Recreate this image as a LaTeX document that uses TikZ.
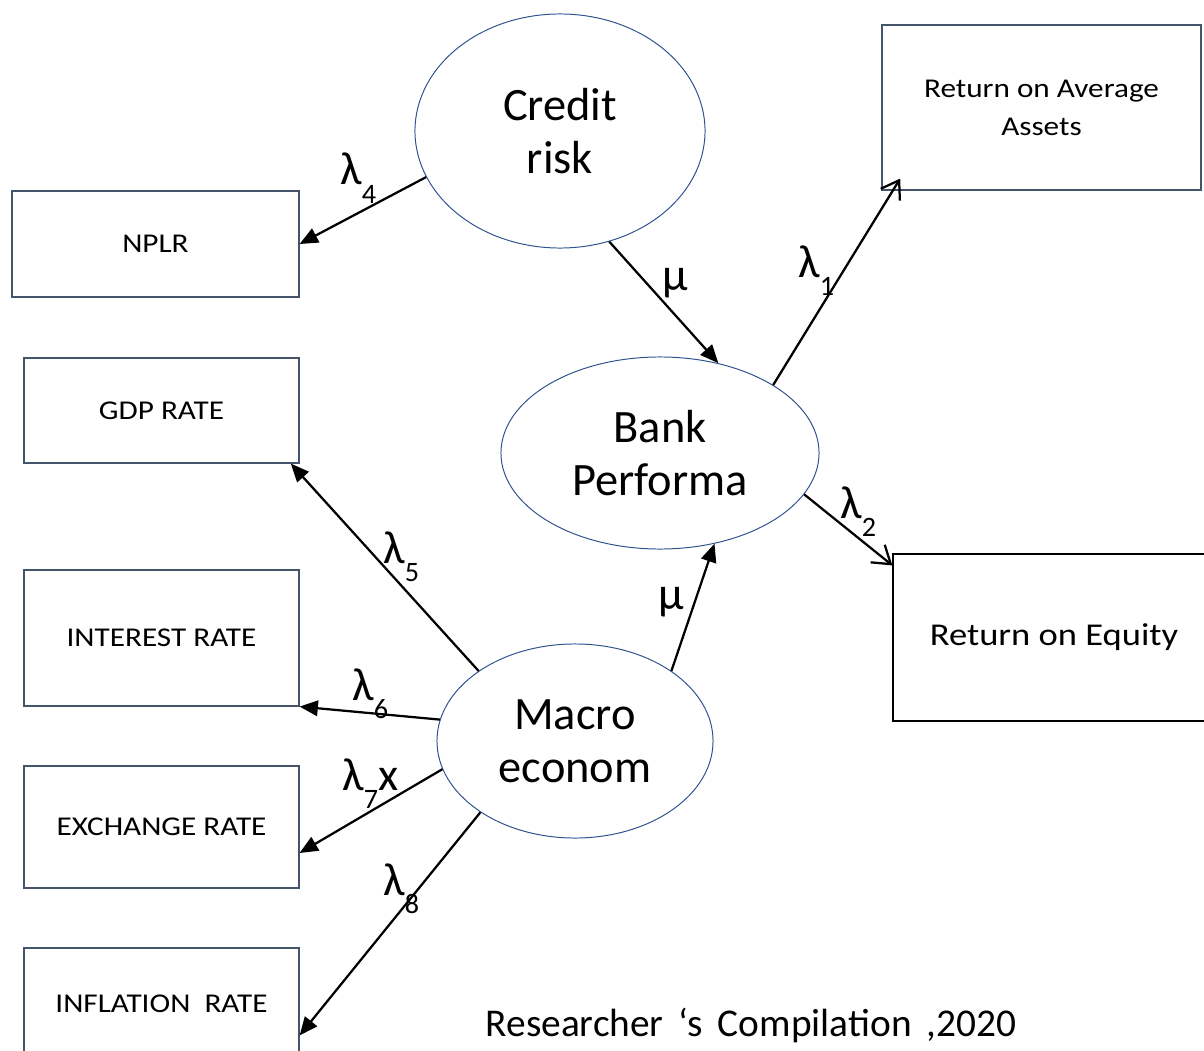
\documentclass[tikz,border=0pt]{standalone}
\usepackage{fontspec}
\setmainfont{Carlito}
\usepackage{tikz}
\usetikzlibrary{shapes.geometric,arrows.meta}

\definecolor{ellblue}{HTML}{2F528F}
\definecolor{boxgray}{HTML}{44546A}

\newcommand{\lam}[1]{λ\raisebox{-13.5pt}{\fontsize{20}{20}\selectfont #1}}
\newcommand{\wide}[1]{\scalebox{1.15}[1]{#1}}

\begin{document}
\begin{tikzpicture}[x=0.025cm,y=-0.025cm,
  latent/.style={ellipse,draw=ellblue,line width=0.7pt,inner sep=0pt,align=center,font=\fontsize{33}{38}\selectfont},
  indicator/.style={rectangle,draw=boxgray,line width=0.8pt,inner sep=0pt,align=center,font=\fontsize{19.3}{27}\selectfont},
  regarrow/.style={line width=1.6pt,-{Triangle[length=13pt,width=11pt]}},
  openarrow/.style={line width=1.6pt,-{Straight Barb[length=12pt,width=16pt]}},
  coef/.style={inner sep=0pt,anchor=base west,font=\fontsize{33}{33}\selectfont}]
\useasboundingbox (0,0) rectangle (1204,1051);

% latent variables
\node[latent,minimum width=7.25cm,minimum height=5.85cm] (credit) at (560,131) {Credit\\risk};
\node[latent,minimum width=7.95cm,minimum height=4.8cm] (bank) at (660,453) {Bank\\Performa};
\node[latent,minimum width=6.9cm,minimum height=4.85cm] (macro) at (575,741) {Macro\\econom};

% indicators
\node[indicator,minimum width=7.175cm,minimum height=2.65cm] (nplr) at (155.5,244) {\wide{NPLR}};
\node[indicator,minimum width=6.875cm,minimum height=2.625cm] (gdp) at (161.5,410.5) {\wide{GDP RATE}};
\node[indicator,minimum width=6.875cm,minimum height=3.4cm] (interest) at (161.5,638) {\wide{INTEREST RATE}};
\node[indicator,minimum width=6.875cm,minimum height=3.05cm] (exchange) at (161.5,827) {\wide{EXCHANGE RATE}};
\node[indicator,minimum width=6.875cm,minimum height=2.8cm] (inflation) at (161.5,1004) {\wide{INFLATION\ \ RATE}};
\node[indicator,minimum width=7.975cm,minimum height=4.125cm] (roaa) at (1041.5,107.5) {\wide{Return on Average}\\\wide{Assets}};
\node[indicator,draw=black,minimum width=8.05cm,minimum height=4.175cm,font=\fontsize{22.6}{26}\selectfont] (roe) at (1054,637.5) {\wide{Return on Equity}};

% paths
\draw[regarrow] (credit.199) -- (nplr.east);
\draw[regarrow] (credit.294) -- (bank.57);
\draw[openarrow] (bank.31) -- ([xshift=0.47cm,yshift=0.3cm]roaa.south west);
\draw[openarrow] (bank.344) -- ([yshift=-0.3cm]roe.north west);
\draw[regarrow] (macro.36) -- (bank.301);
\draw[regarrow] (macro.144) -- ([xshift=-0.22cm]gdp.south east);
\draw[regarrow] (macro.171) -- (interest.south east);
\draw[regarrow] (macro.192) -- ([yshift=-0.65cm]exchange.east);
\draw[regarrow] (macro.217) -- ([yshift=-2.2cm]inflation.north east);

% coefficients
\node[coef] (l4) at (340,185) {\lam{4}};
\node[coef] (mu1) at (662,290) {μ};
\node[coef] (l1) at (798,277) {\lam{1}};
\node[coef] (l2) at (840,518) {\lam{2}};
\node[coef] (l5) at (383,563) {\lam{5}};
\node[coef] (mu2) at (658,609) {μ};
\node[coef] (l6) at (352,700) {\lam{6}};
\node[coef] (l7) at (342,790) {\lam{7}x};
\node[coef] (l8) at (383,895) {\lam{8}};

\node[anchor=base,inner sep=0pt,font=\fontsize{28}{32}\selectfont] (source) at (751,1036) {\spaceskip=0.38em\relax Researcher ‘s Compilation ,2020};
\end{tikzpicture}
\end{document}
